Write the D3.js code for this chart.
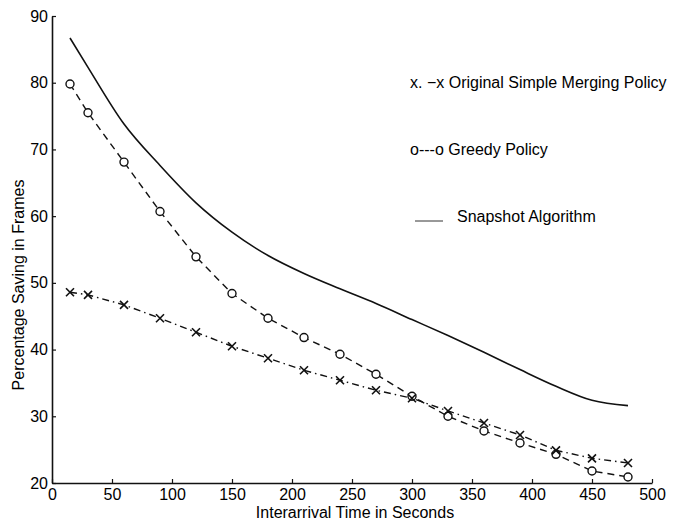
<!DOCTYPE html>
<html>
<head>
<meta charset="utf-8">
<script src="https://cdn.jsdelivr.net/npm/d3@7"></script>
<style>
  body { margin: 0; background: #fff; }
  text { font-family: "Liberation Sans", Arial, sans-serif; fill: #000; }
</style>
</head>
<body>
<div id="chart"></div>
<script>
// Data
var interarrival = [15, 30, 60, 90, 120, 150, 180, 210, 240, 270, 300, 330, 360, 390, 420, 450, 480];
var simpleMerging = [48.6, 48.2, 46.7, 44.7, 42.6, 40.5, 38.7, 36.9, 35.4, 33.9, 32.7, 30.8, 29.0, 27.2, 24.9, 23.7, 23.0];
var greedy = [79.8, 75.5, 68.1, 60.7, 53.9, 48.4, 44.7, 41.8, 39.3, 36.3, 33.0, 30.0, 27.8, 26.0, 24.3, 21.8, 20.9];
var snapshot = [86.7, 82.3, 73.8, 67.6, 62.0, 57.6, 54.1, 51.4, 49.1, 46.9, 44.5, 42.1, 39.6, 37.0, 34.5, 32.4, 31.6];
var xTicks = [0, 50, 100, 150, 200, 250, 300, 350, 400, 450, 500];
var yTicks = [20, 30, 40, 50, 60, 70, 80, 90];

// SVG area dimensions
var svgWidth = 680;
var svgHeight = 524;

var chartMargin = {
  top: 16,
  right: 28,
  bottom: 41,
  left: 52
};

var chartWidth = svgWidth - chartMargin.left - chartMargin.right;
var chartHeight = svgHeight - chartMargin.top - chartMargin.bottom;

var svg = d3.select("#chart")
  .append("svg")
  .attr("width", svgWidth)
  .attr("height", svgHeight);

var chartGroup = svg.append("g")
  .attr("transform", `translate(${chartMargin.left}, ${chartMargin.top})`);

var xLinearScale = d3.scaleLinear()
  .domain([0, 500])
  .range([0, chartWidth]);

var yLinearScale = d3.scaleLinear()
  .domain([20, 90])
  .range([chartHeight, 0]);

// axes with inward ticks
var bottomAxis = d3.axisBottom(xLinearScale)
  .tickValues(xTicks)
  .tickSizeInner(-4)
  .tickSizeOuter(0)
  .tickPadding(6);

var leftAxis = d3.axisLeft(yLinearScale)
  .tickValues(yTicks)
  .tickSizeInner(-4)
  .tickSizeOuter(0)
  .tickPadding(4);

var xAxis = chartGroup.append("g")
  .attr("transform", `translate(0, ${chartHeight})`)
  .call(bottomAxis);

var yAxis = chartGroup.append("g")
  .call(leftAxis);

[xAxis, yAxis].forEach(function(ax) {
  ax.select(".domain").attr("stroke", "#111").attr("stroke-width", 1.6);
  ax.selectAll(".tick line").attr("stroke", "#111").attr("stroke-width", 1.2);
  ax.selectAll(".tick text")
    .style("font-family", "'Liberation Sans', Arial, sans-serif")
    .style("font-size", "16px")
    .attr("fill", "#000");
});

// series as point arrays
var pts = function(vals) {
  return interarrival.map(function(x, i) { return { x: x, y: vals[i] }; });
};

var line = d3.line()
  .x(d => xLinearScale(d.x))
  .y(d => yLinearScale(d.y));

// Snapshot algorithm: solid
chartGroup.append("path")
  .datum(pts(snapshot))
  .attr("fill", "none")
  .attr("stroke", "#111")
  .attr("stroke-width", 1.6)
  .attr("d", line.curve(d3.curveMonotoneX));

// Greedy policy: dashed with circles
chartGroup.append("path")
  .datum(pts(greedy))
  .attr("fill", "none")
  .attr("stroke", "#111")
  .attr("stroke-width", 1.4)
  .attr("stroke-dasharray", "7,5")
  .attr("d", line.curve(d3.curveLinear));

chartGroup.selectAll("circle.greedy")
  .data(pts(greedy))
  .enter()
  .append("circle")
  .attr("class", "greedy")
  .attr("cx", d => xLinearScale(d.x))
  .attr("cy", d => yLinearScale(d.y))
  .attr("r", 4)
  .attr("fill", "#fff")
  .attr("stroke", "#111")
  .attr("stroke-width", 1.4);

// Original simple merging: dash-dot with crosses
chartGroup.append("path")
  .datum(pts(simpleMerging))
  .attr("fill", "none")
  .attr("stroke", "#111")
  .attr("stroke-width", 1.4)
  .attr("stroke-dasharray", "7,4,1.5,4")
  .attr("d", line.curve(d3.curveLinear));

chartGroup.selectAll("path.cross")
  .data(pts(simpleMerging))
  .enter()
  .append("path")
  .attr("class", "cross")
  .attr("transform", d => `translate(${xLinearScale(d.x)}, ${yLinearScale(d.y)})`)
  .attr("d", "M-4,-4L4,4M-4,4L4,-4")
  .attr("stroke", "#111")
  .attr("stroke-width", 1.6);

// legend
svg.append("text")
  .attr("x", 410)
  .attr("y", 88)
  .style("font-size", "16px")
  .text("x. \u2212x Original Simple Merging Policy");

svg.append("text")
  .attr("x", 410)
  .attr("y", 155)
  .style("font-size", "16px")
  .text("o---o Greedy Policy");

svg.append("line")
  .attr("x1", 415)
  .attr("x2", 443)
  .attr("y1", 221)
  .attr("y2", 221)
  .attr("stroke", "#333")
  .attr("stroke-width", 1);

svg.append("text")
  .attr("x", 457)
  .attr("y", 222)
  .style("font-size", "16px")
  .text("Snapshot Algorithm");

// axis labels
svg.append("text")
  .attr("x", 355)
  .attr("y", 518)
  .attr("text-anchor", "middle")
  .style("font-size", "16px")
  .text("Interarrival Time in Seconds");

svg.append("text")
  .attr("transform", "rotate(-90)")
  .attr("x", -285)
  .attr("y", 24)
  .attr("text-anchor", "middle")
  .style("font-size", "16px")
  .text("Percentage Saving in Frames");
</script>
</body>
</html>
